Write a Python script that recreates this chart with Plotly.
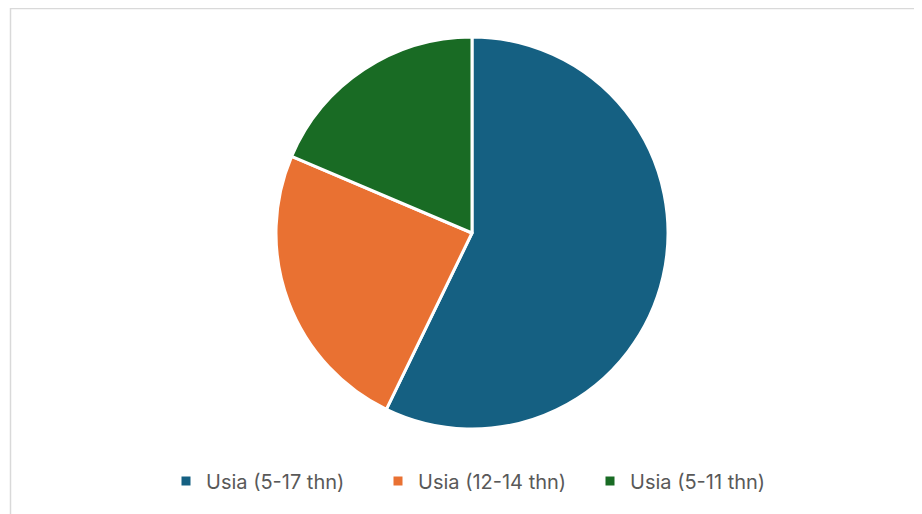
import plotly.graph_objects as go

labels = ["Usia (5-17 thn)", "Usia (12-14 thn)", "Usia (5-11 thn)"]
values = [57.2, 24.2, 18.6]
colors = ["#156082", "#E97132", "#196B24"]

W, H = 922, 514
off = 8  # page body margin shifts the figure
cx, cy, r = 472 - off, 233 - off, 196

fig = go.Figure(go.Pie(
    labels=labels, values=values, sort=False, direction="clockwise", rotation=0,
    marker=dict(colors=colors, line=dict(color="white", width=3)),
    textinfo="none", hoverinfo="label+value+percent",
    domain=dict(x=[(cx - r) / W, (cx + r) / W], y=[1 - (cy + r) / H, 1 - (cy - r) / H]),
))

fig.update_layout(
    width=W, height=H, margin=dict(l=0, r=0, t=0, b=0),
    paper_bgcolor="white", plot_bgcolor="white",
    font=dict(family="Inter, Liberation Sans, sans-serif", color="#595959"),
    legend=dict(orientation="h", x=(484 - off) / W, xanchor="center", y=1 - (481 - off) / H, yanchor="middle",
                font=dict(size=20, color="#595959"), itemclick=False, tracegroupgap=0,
                entrywidth=167, entrywidthmode="pixels"),
    showlegend=True,
    shapes=[dict(type="rect", xref="paper", yref="paper", x0=(10.5 - off) / W, x1=1.05, y0=-0.05,
                 y1=1 - (8.5 - off) / H,
                 line=dict(color="#D9D9D9", width=1.5), fillcolor="rgba(0,0,0,0)")],
)

fig.write_html("out.html")
